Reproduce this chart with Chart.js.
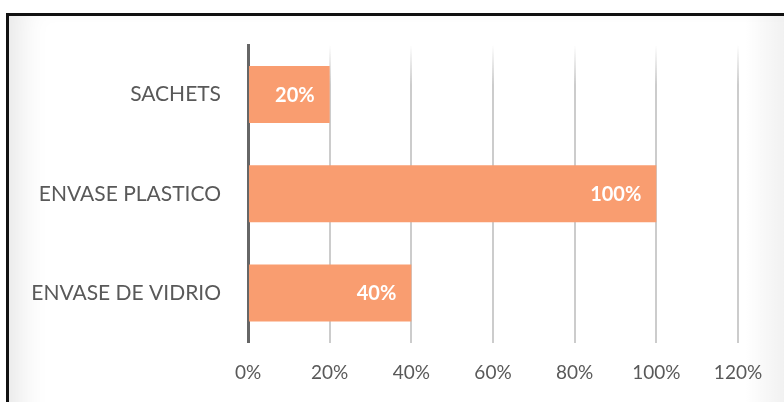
<!DOCTYPE html>
<html>
<head>
<meta charset="utf-8">
<script src="https://cdn.jsdelivr.net/npm/chart.js@4/dist/chart.umd.min.js"></script>
<style>
  html, body { margin: 0; padding: 0; background: #fff; }
  #wrap { position: relative; width: 784px; height: 402px; overflow: hidden; background: #fff; }
  #frame {
    position: absolute; left: 6px; top: 13px; width: 800px; height: 420px;
    border-top: 3px solid #111; border-left: 3px solid #111;
    box-shadow: inset 30px 0 30px -20px rgba(0,0,0,0.10);
    background: linear-gradient(to right, rgba(255,255,255,0) 92%, rgba(0,0,0,0.09) 100%);
  }
  #chart { position: absolute; left: 0; top: 0; }
</style>
</head>
<body>
<div id="wrap">
  <div id="frame"></div>
  <canvas id="chart" width="784" height="402"></canvas>
</div>
<script>
// Chart data
const categories = ['SACHETS', 'ENVASE PLASTICO', 'ENVASE DE VIDRIO'];
const shares = [0.20, 1.00, 0.40];
const tickValues = [0, 0.2, 0.4, 0.6, 0.8, 1.0, 1.2];

const barColor = '#f99d70';
const textColor = '#595959';
const fontFamily = 'Lato, "Open Sans", sans-serif';

const pct = v => Math.round(v * 100) + '%';

// grid lines fade out towards the top of the plot
let gridGradient = null;
function gridColor(c) {
  if (c.index === 0) return 'rgba(0,0,0,0)';
  const area = c.chart.chartArea;
  if (!area) return '#cccccc';
  if (!gridGradient) {
    gridGradient = c.chart.ctx.createLinearGradient(0, area.top, 0, area.top + 40);
    gridGradient.addColorStop(0, 'rgba(204,204,204,0)');
    gridGradient.addColorStop(1, 'rgba(204,204,204,1)');
  }
  return gridGradient;
}

// White value labels at the inner end of each bar
const insideLabels = {
  id: 'insideLabels',
  afterDatasetsDraw(chart) {
    const ctx = chart.ctx;
    const meta = chart.getDatasetMeta(0);
    ctx.save();
    ctx.fillStyle = '#ffffff';
    ctx.font = 'bold 20px ' + fontFamily;
    ctx.textAlign = 'right';
    ctx.textBaseline = 'middle';
    meta.data.forEach((bar, i) => {
      ctx.fillText(pct(shares[i]), bar.x - 15, bar.y + 1);
    });
    ctx.restore();
  }
};

new Chart(document.getElementById('chart'), {
  type: 'bar',
  data: {
    labels: categories,
    datasets: [{
      data: shares,
      backgroundColor: barColor,
      borderWidth: 0,
      barPercentage: 0.575,
      categoryPercentage: 1.0
    }]
  },
  options: {
    indexAxis: 'y',
    responsive: false,
    animation: false,
    layout: { padding: { left: 0, right: 46, top: 45, bottom: 0 } },
    plugins: { legend: { display: false }, tooltip: { enabled: false } },
    scales: {
      x: {
        min: 0,
        max: 1.2,
        afterBuildTicks(scale) {
          scale.ticks = tickValues.map(v => ({ value: v }));
        },
        ticks: {
          callback: v => pct(v),
          color: textColor,
          font: { family: fontFamily, size: 19 },
          padding: 19
        },
        grid: {
          color: gridColor,
          lineWidth: 2,
          drawTicks: false
        },
        border: { display: false },
        afterFit(scale) { scale.height = 402 - 342.5; }
      },
      y: {
        ticks: {
          color: textColor,
          font: { family: fontFamily, size: 21 },
          padding: 27
        },
        grid: { display: false, drawTicks: false },
        border: { display: true, color: '#666666', width: 3 },
        afterFit(scale) { scale.width = 248; }
      }
    }
  },
  plugins: [insideLabels]
});
</script>
</body>
</html>
